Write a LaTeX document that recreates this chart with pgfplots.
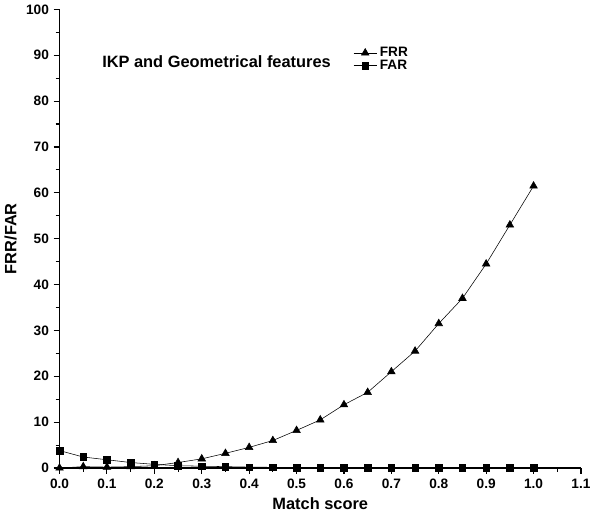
\documentclass[border=0pt]{standalone}
\usepackage{pgfplots}
\pgfplotsset{compat=1.18}
\usepackage{fontspec}
\setmainfont{Liberation Sans}
\begin{document}
\begin{tikzpicture}
\begin{axis}[
  width=382pt, height=336pt, scale only axis,
  xmin=0, xmax=1.1, ymin=0, ymax=100,
  xtick={0,0.1,...,1.1}, ytick={0,10,...,100},
  xticklabel={\pgfmathprintnumber[fixed,fixed zerofill,precision=1]{\tick}},
  yticklabel={\pgfmathprintnumber[fixed,precision=0]{\tick}},
  /pgf/number format/assume math mode=true,
  ticklabel style={font=\bfseries},
  axis line style={thick}, tick style={thick,black},
  tick align=outside, axis x line*=bottom, axis y line*=left,
  minor x tick num=1, minor y tick num=1,
  xlabel={\bfseries Match score}, ylabel={\bfseries FRR/FAR},
  label style={font=\bfseries\large},
  legend style={draw=none, fill=none, at={(0.555,0.93)}, anchor=north west, font=\bfseries, row sep=-3pt},
  legend cell align=left,
]
\addplot[black, thin, mark=triangle*, mark size=3.2pt] coordinates {
(0,0)(0.05,0.3)(0.1,0.2)(0.15,0.3)(0.2,0.5)(0.25,1.2)(0.3,2)(0.35,3.2)(0.4,4.5)(0.45,6)(0.5,8.2)(0.55,10.5)(0.6,13.8)(0.65,16.5)(0.7,21)(0.75,25.5)(0.8,31.5)(0.85,37)(0.9,44.5)(0.95,53)(1.0,61.5)};
\addlegendentry{FRR}
\addplot[black, thin, mark=square*, mark size=2.4pt] coordinates {
(0,3.8)(0.05,2.4)(0.1,1.8)(0.15,1.2)(0.2,0.8)(0.25,0.5)(0.3,0.4)(0.35,0.3)(0.4,0.2)(0.45,0.15)(0.5,0.1)(0.55,0.1)(0.6,0.1)(0.65,0.1)(0.7,0.1)(0.75,0.1)(0.8,0.1)(0.85,0.1)(0.9,0.1)(0.95,0.1)(1.0,0.1)};
\addlegendentry{FAR}
\node[anchor=west, font=\bfseries\large] at (axis cs:0.08,88.5) {IKP and Geometrical features};
\end{axis}
\end{tikzpicture}
\end{document}
